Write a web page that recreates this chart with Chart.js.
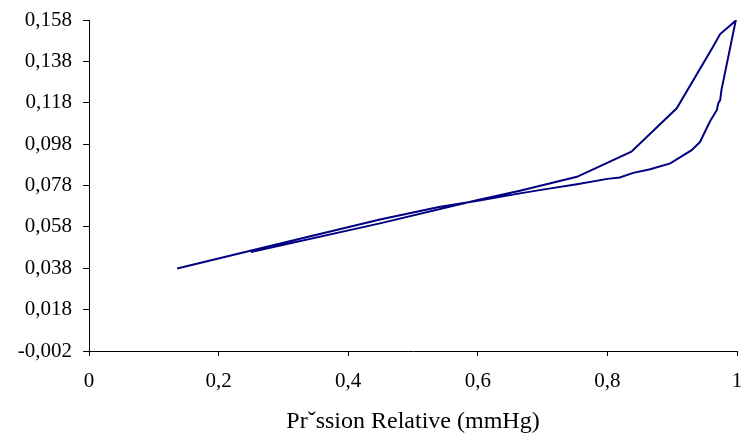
<!DOCTYPE html>
<html>
<head>
<meta charset="utf-8">
<script src="https://cdn.jsdelivr.net/npm/chart.js@4.4.1/dist/chart.umd.min.js"></script>
<style>
  html, body { margin: 0; padding: 0; background: #fff; }
  #wrap { position: relative; width: 742px; height: 434px; }
</style>
</head>
<body>
<div id="wrap"><canvas id="isotherm"></canvas></div>
<script>
// adsorption branch (ascending pressure)
const adsX = [0.136, 0.3, 0.449, 0.542, 0.6, 0.665, 0.70, 0.753, 0.80, 0.819, 0.840, 0.866, 0.897, 0.930, 0.943, 0.958, 0.969, 0.971, 0.974, 0.976, 0.998];
const adsY = [0.0379, 0.0503, 0.0616, 0.0677, 0.0706, 0.0742, 0.0760, 0.0786, 0.0812, 0.0819, 0.0841, 0.0859, 0.0887, 0.0951, 0.0991, 0.1088, 0.1145, 0.1177, 0.1193, 0.1241, 0.1577];
// desorption branch (descending pressure)
const desX = [0.974, 0.963, 0.907, 0.837, 0.753, 0.665, 0.60, 0.449, 0.250];
const desY = [0.1512, 0.1451, 0.1153, 0.0943, 0.0822, 0.0755, 0.0710, 0.0597, 0.0459];

const xTicks = [0, 0.2, 0.4, 0.6, 0.8, 1];
const xTickLabels = ["0", "0,2", "0,4", "0,6", "0,8", "1"];
const yTicks = [-0.002, 0.018, 0.038, 0.058, 0.078, 0.098, 0.118, 0.138, 0.158];
const yTickLabels = ["-0,002", "0,018", "0,038", "0,058", "0,078", "0,098", "0,118", "0,138", "0,158"];
const xTitle = "Prˇssion Relative (mmHg)";

const points = adsX.map((x, i) => ({ x: x, y: adsY[i] }))
  .concat(desX.map((x, i) => ({ x: x, y: desY[i] })));

const font = { family: "'Liberation Serif', 'Times New Roman', serif", size: 21 };

new Chart(document.getElementById("isotherm"), {
  type: "line",
  data: {
    datasets: [{
      data: points,
      borderColor: "#000080",
      borderWidth: 2,
      pointRadius: 0,
      tension: 0,
      fill: false,
    }],
  },
  options: {
    responsive: true,
    maintainAspectRatio: false,
    animation: false,
    layout: { padding: { top: 20, right: 5, left: 0, bottom: 0 } },
    plugins: { legend: { display: false }, tooltip: { enabled: false } },
    scales: {
      x: {
        type: "linear",
        min: 0,
        max: 1,
        afterBuildTicks: (s) => { s.ticks = xTicks.map((v) => ({ value: v })); },
        afterFit: (s) => { s.height = 83; s.paddingLeft = 0; s.paddingRight = 0; },
        border: { display: true, color: "#000", width: 1 },
        grid: { drawOnChartArea: false, drawTicks: true, tickLength: 5, color: "#000" },
        ticks: {
          color: "#000",
          font: font,
          padding: 13,
          maxRotation: 0,
          callback: (v, i) => xTickLabels[i],
        },
        title: { display: true, text: xTitle, color: "#000", font: { family: font.family, size: 24, lineHeight: 1 }, padding: { top: 10, bottom: 0 } },
      },
      y: {
        type: "linear",
        min: -0.002,
        max: 0.158,
        afterBuildTicks: (s) => { s.ticks = yTicks.map((v) => ({ value: v })); },
        afterFit: (s) => { s.width = 89; s.paddingTop = 0; s.paddingBottom = 0; },
        border: { display: true, color: "#000", width: 1 },
        grid: { drawOnChartArea: false, drawTicks: true, tickLength: 6, color: "#000" },
        ticks: {
          color: "#000",
          font: font,
          padding: 11,
          callback: (v, i) => yTickLabels[i],
        },
      },
    },
  },
});
</script>
</body>
</html>
